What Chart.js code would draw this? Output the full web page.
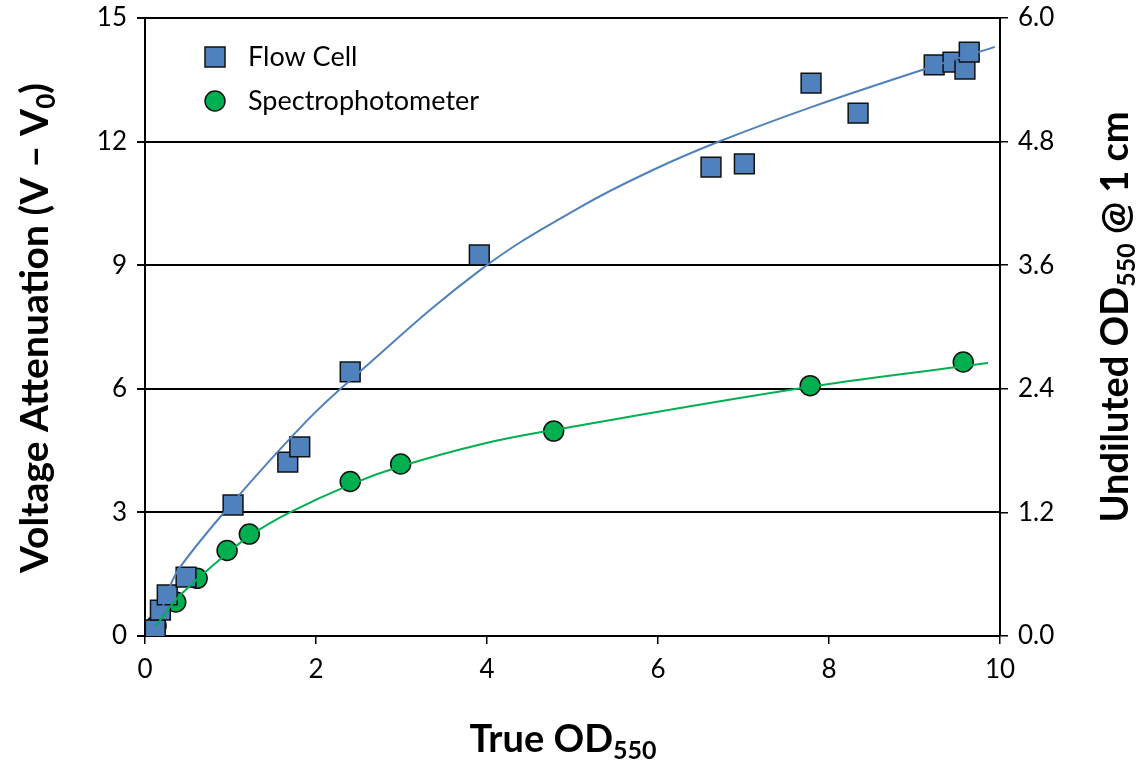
<!DOCTYPE html>
<html>
<head>
<meta charset="utf-8">
<script src="https://cdn.jsdelivr.net/npm/chart.js@4.4.1/dist/chart.umd.min.js"></script>
<style>
  html, body { margin: 0; padding: 0; background: #fff; }
  #wrap { width: 1142px; height: 765px; }
</style>
</head>
<body>
<div id="wrap"><canvas id="myChart"></canvas></div>
<script>
// Flow Cell (left axis, V - V0)
var flowX = [0.12, 0.18, 0.26, 0.48, 1.03, 1.67, 1.81, 2.40, 3.91, 6.62, 7.01, 7.79, 8.34, 9.23, 9.45, 9.59, 9.64];
var flowY = [0.15, 0.63, 1.00, 1.43, 3.18, 4.22, 4.59, 6.41, 9.25, 11.38, 11.46, 13.42, 12.69, 13.86, 13.93, 13.76, 14.17];
// Spectrophotometer (right axis, OD550 @ 1 cm)
var specX = [0.13, 0.36, 0.61, 0.96, 1.22, 2.40, 2.99, 4.78, 7.78, 9.57];
var specY = [0.10, 0.33, 0.56, 0.83, 0.99, 1.50, 1.67, 1.99, 2.43, 2.66];
// trend lines
var flowFitX = [0.20, 0.26, 0.41, 1.08, 1.90, 2.40, 3.92, 5.09, 5.94, 6.70, 7.81, 9.15, 9.94];
var flowFitY = [0.65, 1.04, 1.67, 3.37, 5.24, 6.21, 8.88, 10.41, 11.31, 11.99, 12.85, 13.78, 14.30];
var specFitX = [0.13, 0.36, 0.61, 0.96, 1.22, 1.67, 2.40, 3.00, 3.92, 4.78, 7.78, 9.86];
var specFitY = [0.10, 0.35, 0.55, 0.80, 0.97, 1.19, 1.47, 1.65, 1.86, 2.00, 2.42, 2.65];
// ticks
var xTicks = [0, 2, 4, 6, 8, 10];
var yTicks = [0, 3, 6, 9, 12, 15];
var y2Ticks = [0, 1.2, 2.4, 3.6, 4.8, 6.0];

var BLUE = '#4F81BD';
var GREEN = '#00B050';
var FONT = "Lato, 'Open Sans', sans-serif";

function pts(xs, ys){
  return xs.map(function(x, i){ return {x: x, y: ys[i]}; });
}

// axis titles with subscripts + legend in the plot
var decor = {
  id: 'decor',
  afterDraw: function(chart){
    var ctx = chart.ctx;
    function title(parts, cx, cy, rot, size){
      ctx.save();
      ctx.translate(cx, cy);
      ctx.rotate(rot);
      ctx.fillStyle = '#000';
      ctx.textBaseline = 'alphabetic';
      var big = 'bold ' + size + 'px ' + FONT, small = 'bold ' + Math.round(size * 0.66) + 'px ' + FONT;
      var w = 0;
      parts.forEach(function(p){ ctx.font = p[1] ? small : big; w += ctx.measureText(p[0]).width; });
      var x = -w / 2;
      parts.forEach(function(p){
        ctx.font = p[1] ? small : big;
        ctx.fillText(p[0], x, p[1] ? 19 : 12);
        x += ctx.measureText(p[0]).width;
      });
      ctx.restore();
    }
    title([['True OD', false], ['550', true]], 563, 740, 0, 38);
    title([['Voltage Attenuation (V \u2013 V', false], ['0', true], [')', false]], 36, 328, -Math.PI / 2, 39);
    title([['Undiluted OD', false], ['550', true], [' @ 1 cm', false]], 1116, 317, -Math.PI / 2, 38);

    // legend
    ctx.save();
    ctx.lineWidth = 1.5;
    ctx.strokeStyle = '#111';
    ctx.fillStyle = BLUE;
    ctx.fillRect(205, 47, 20, 20);
    ctx.strokeRect(205, 47, 20, 20);
    ctx.beginPath();
    ctx.arc(215, 101, 10, 0, Math.PI * 2);
    ctx.fillStyle = GREEN;
    ctx.fill();
    ctx.stroke();
    ctx.fillStyle = '#000';
    ctx.font = '27px ' + FONT;
    ctx.textBaseline = 'middle';
    ctx.fillText('Flow Cell', 248, 57);
    ctx.fillText('Spectrophotometer', 248, 101);
    ctx.restore();
  }
};

function noPad(s){ s.paddingTop = 0; s.paddingBottom = 0; }

new Chart(document.getElementById('myChart'), {
  type: 'scatter',
  data: {
    datasets: [
      {
        label: 'Flow Cell fit',
        type: 'line',
        data: pts(flowFitX, flowFitY),
        yAxisID: 'y',
        borderColor: BLUE,
        borderWidth: 2,
        pointRadius: 0,
        showLine: true,
        fill: false,
        tension: 0.4,
        order: 0
      },
      {
        label: 'Spectrophotometer fit',
        type: 'line',
        data: pts(specFitX, specFitY),
        yAxisID: 'y2',
        borderColor: GREEN,
        borderWidth: 2,
        pointRadius: 0,
        showLine: true,
        fill: false,
        tension: 0.4,
        order: 0
      },
      {
        label: 'Flow Cell',
        data: pts(flowX, flowY),
        yAxisID: 'y',
        pointStyle: 'rect',
        pointRadius: 14,
        backgroundColor: BLUE,
        borderColor: '#111',
        borderWidth: 1.5,
        order: 1
      },
      {
        label: 'Spectrophotometer',
        data: pts(specX, specY),
        yAxisID: 'y2',
        pointStyle: 'circle',
        pointRadius: 10,
        backgroundColor: GREEN,
        borderColor: '#111',
        borderWidth: 1.5,
        order: 1
      }
    ]
  },
  options: {
    responsive: true,
    maintainAspectRatio: false,
    animation: false,
    layout: { padding: { top: 18, left: 0, right: 0, bottom: 0 } },
    plugins: {
      legend: { display: false },
      tooltip: { enabled: false }
    },
    scales: {
      x: {
        type: 'linear',
        min: 0, max: 10,
        afterBuildTicks: function(s){ s.ticks = xTicks.map(function(v){ return {value: v}; }); },
        afterFit: function(s){ s.height = 129; },
        grid: { drawOnChartArea: false, drawTicks: true, tickLength: 8, color: '#000', lineWidth: 1.5 },
        border: { display: true, color: '#000', width: 2 },
        ticks: { color: '#000', font: { family: FONT, size: 26 }, padding: 10, maxRotation: 0 }
      },
      y: {
        type: 'linear',
        position: 'left',
        min: 0, max: 15,
        afterBuildTicks: function(s){ s.ticks = yTicks.map(function(v){ return {value: v}; }); },
        afterFit: function(s){ s.width = 145; noPad(s); },
        grid: { color: '#000', lineWidth: 2, drawTicks: true, tickLength: 8 },
        border: { display: true, color: '#000', width: 2 },
        ticks: { color: '#000', font: { family: FONT, size: 26 }, padding: 10 }
      },
      y2: {
        type: 'linear',
        position: 'right',
        min: 0, max: 6,
        afterBuildTicks: function(s){ s.ticks = y2Ticks.map(function(v){ return {value: v}; }); },
        afterFit: function(s){ s.width = 142; noPad(s); },
        grid: { drawOnChartArea: false, color: '#000', lineWidth: 1.5, drawTicks: true, tickLength: 8 },
        border: { display: true, color: '#000', width: 2 },
        ticks: {
          color: '#000', font: { family: FONT, size: 26 }, padding: 10,
          callback: function(v){ return Number(v).toFixed(1); }
        }
      }
    }
  },
  plugins: [decor]
});
</script>
</body>
</html>
